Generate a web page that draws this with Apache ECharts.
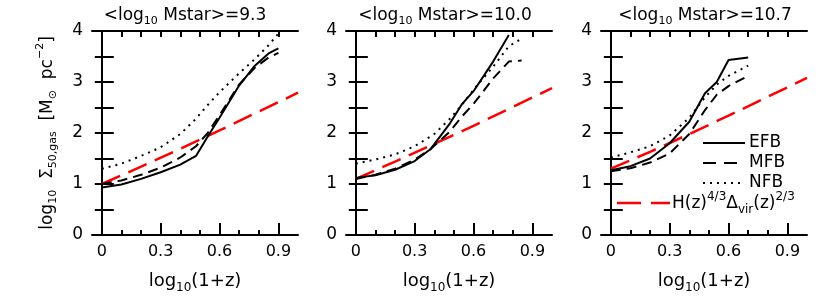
<!DOCTYPE html>
<html><head><meta charset="utf-8">
<script src="https://cdn.jsdelivr.net/npm/echarts@6/dist/echarts.min.js"></script>
<style>html,body{margin:0;padding:0;background:#fff}#c{width:822px;height:301px}</style>
</head><body><div id="c"></div>
<script>
const FONT = 'DejaVu Sans';
// ---- text / ticks ----
const panelMasses = ['9.3', '10.0', '10.7'];
const xLabelTicks = [0, 0.3, 0.6, 0.9];
const xMinorTicks = [0.1, 0.2, 0.4, 0.5, 0.7, 0.8];
const xTopTicks = [0, 0.1, 0.2, 0.3, 0.4, 0.5, 0.6, 0.7, 0.8, 0.9];
const yLabelTicks = [0, 1, 2, 3, 4];
const yTicks = [0, 0.5, 1, 1.5, 2, 2.5, 3, 3.5, 4];
const legendNames = ['EFB', 'MFB', 'NFB'];

// ---- panel 1 : <log10 Mstar>=9.3 ----
const p1X   = [0, 0.1, 0.2, 0.3, 0.4, 0.48, 0.54, 0.6, 0.7, 0.78, 0.85, 0.9];
const p1EFB = [0.93, 0.99, 1.10, 1.23, 1.38, 1.55, 1.93, 2.30, 2.93, 3.32, 3.56, 3.66];
const p1MFB = [1.00, 1.07, 1.18, 1.32, 1.52, 1.74, 2.00, 2.35, 2.95, 3.28, 3.48, 3.57];
const p1NFB = [1.30, 1.40, 1.55, 1.72, 1.98, 2.28, 2.55, 2.80, 3.17, 3.45, 3.72, 3.95];
// ---- panel 2 : <log10 Mstar>=10.0 ----
const p2X    = [0, 0.1, 0.2, 0.3, 0.38, 0.48, 0.54, 0.6, 0.7, 0.78];
const p2EFB  = [1.12, 1.17, 1.28, 1.45, 1.68, 2.19, 2.56, 2.82, 3.40, 3.92];
const p2XM   = [0, 0.1, 0.2, 0.3, 0.38, 0.48, 0.54, 0.6, 0.7, 0.78, 0.845];
const p2MFB  = [1.10, 1.18, 1.30, 1.48, 1.68, 2.03, 2.32, 2.57, 3.07, 3.40, 3.42];
const p2XN   = [0, 0.1, 0.2, 0.3, 0.4, 0.48, 0.54, 0.6, 0.7, 0.78, 0.845];
const p2NFB  = [1.40, 1.48, 1.58, 1.74, 1.98, 2.28, 2.55, 2.85, 3.30, 3.70, 3.85];
// ---- panel 3 : <log10 Mstar>=10.7 ----
const p3X   = [0, 0.1, 0.2, 0.3, 0.4, 0.48, 0.54, 0.6, 0.7];
const p3EFB = [1.27, 1.35, 1.50, 1.80, 2.22, 2.78, 3.00, 3.43, 3.48];
const p3MFB = [1.25, 1.31, 1.42, 1.60, 1.98, 2.45, 2.75, 2.92, 3.12];
const p3NFB = [1.52, 1.62, 1.74, 1.95, 2.30, 2.70, 2.95, 3.12, 3.32];
// ---- H(z)^4/3 Delta_vir(z)^2/3 scaling ----
const hX    = [0, 0.2, 0.4, 0.6, 0.8, 1.0];
const p1H   = [1.00, 1.34, 1.69, 2.05, 2.42, 2.79];
const p2H   = [1.10, 1.44, 1.79, 2.14, 2.51, 2.88];
const p3H   = [1.30, 1.63, 1.98, 2.34, 2.71, 3.08];

const panels = [
  {series: [[p1X, p1EFB], [p1X, p1MFB], [p1X, p1NFB], [hX, p1H]]},
  {series: [[p2X, p2EFB], [p2XM, p2MFB], [p2XN, p2NFB], [hX, p2H]]},
  {series: [[p3X, p3EFB], [p3X, p3MFB], [p3X, p3NFB], [hX, p3H]]}
];

function rich(size, sub, color) {
  const base = {fontFamily: FONT, fontWeight: 'normal', color: color, verticalAlign: 'top'};
  return {
    m: Object.assign({}, base, {fontSize: size, padding: [4, 0, 0, 0]}),
    s: Object.assign({}, base, {fontSize: sub, padding: [Math.round(size * 0.78), 0, 0, 0]}),
    p: Object.assign({}, base, {fontSize: sub, padding: [0, 0, 0, 0]})
  };
}

const gridLefts = [92, 346, 601];
const titleCenters = [185, 445, 705];
const styles = [
  {color: '#000', width: 2, type: 'solid'},
  {color: '#000', width: 2, type: [10, 6]},
  {color: '#000', width: 2, type: [2, 5]},
  {color: '#ff0000', width: 2.5, type: [20, 9]}
];

const grid = [], xAxis = [], yAxis = [], series = [], title = [];
const black = {color: '#000', width: 2};
panels.forEach((p, i) => {
  grid.push({left: gridLefts[i], top: 31, width: 206, height: 204});
  title.push({
    text: '{m|<log}{s|10}{m| Mstar>=' + panelMasses[i] + '}',
    left: titleCenters[i], top: 3, textAlign: 'center', padding: 0,
    textStyle: {fontWeight: 'normal', rich: rich(17, 11, '#000')}
  });
  const xBase = {type: 'value', gridIndex: i, min: -0.05, max: 1.0, splitLine: {show: false}};
  xAxis.push(Object.assign({}, xBase, {
    position: 'bottom',
    axisLine: {lineStyle: black},
    axisTick: {inside: true, length: 12, customValues: xLabelTicks, lineStyle: black},
    axisLabel: {customValues: xLabelTicks, margin: 9, fontFamily: FONT, fontSize: 16, color: '#000',
      formatter: v => v === 0 ? '0' : v.toFixed(1)},
    name: '{m|log}{s|10}{m|(1+z)}', nameLocation: 'middle', nameGap: 33,
    nameTextStyle: {rich: rich(18, 12, '#000')}
  }));
  xAxis.push(Object.assign({}, xBase, {
    position: 'bottom', axisLine: {show: false},
    axisTick: {inside: true, length: 5, customValues: xMinorTicks, lineStyle: black},
    axisLabel: {show: false}
  }));
  xAxis.push(Object.assign({}, xBase, {
    position: 'top', axisLine: {lineStyle: black},
    axisTick: {inside: true, length: 6, customValues: xTopTicks, lineStyle: black},
    axisLabel: {show: false}
  }));
  const yBase = {type: 'value', gridIndex: i, min: 0, max: 4, splitLine: {show: false}};
  const yl = Object.assign({}, yBase, {
    position: 'left', axisLine: {lineStyle: black},
    axisTick: {inside: true, length: 12, customValues: yTicks, lineStyle: black},
    axisLabel: {customValues: yLabelTicks, margin: 9, fontFamily: FONT, fontSize: 17, color: '#000'}
  });
  if (i === 0) {
    Object.assign(yl, {
      name: '{m|log}{s|10}{m|  Σ}{s|50,gas}{m|  [M}{s|⊙}{m|  pc}{p|−2}{m|]}',
      nameLocation: 'middle', nameRotate: 90, nameGap: 33,
      nameTextStyle: {rich: rich(17, 11, '#000')}
    });
  }
  yAxis.push(yl);
  yAxis.push(Object.assign({}, yBase, {
    position: 'right', axisLine: {lineStyle: black},
    axisTick: {inside: true, length: 7, customValues: yTicks, lineStyle: black},
    axisLabel: {show: false}
  }));
  p.series.forEach((s, k) => {
    series.push({
      type: 'line', xAxisIndex: 3 * i, yAxisIndex: 2 * i,
      data: s[0].map((x, j) => [x, s[1][j]]),
      showSymbol: false, symbol: 'none', clip: true, silent: true,
      z: k === 3 ? 3 : 4,
      lineStyle: styles[k]
    });
  });
});

// legend (panel 3)
const legY = [143, 163, 183];
const graphic = [];
legendNames.forEach((n, k) => {
  graphic.push({type: 'line', shape: {x1: 703, y1: legY[k], x2: 745, y2: legY[k]},
    style: {stroke: '#000', lineWidth: 2, lineDash: k === 0 ? null : (k === 1 ? [13, 8] : [2, 5])}});
  graphic.push({type: 'text', x: 749, y: legY[k],
    style: {text: n, fontFamily: FONT, fontSize: 17, fill: '#000', verticalAlign: 'middle', align: 'left'}});
});
graphic.push({type: 'line', shape: {x1: 617, y1: 203, x2: 670, y2: 203},
  style: {stroke: '#ff0000', lineWidth: 2.5, lineDash: [24, 10]}});
graphic.push({type: 'text', x: 672, y: 191,
  style: {text: '{m|H(z)}{p|4/3}{m|Δ}{s|vir}{m|(z)}{p|2/3}', rich: rich(17, 12, '#ff0000'),
    verticalAlign: 'top', align: 'left'}});

const chart = echarts.init(document.getElementById('c'));
chart.setOption({animation: false, backgroundColor: '#fff', title, grid, xAxis, yAxis, series, graphic});
</script></body></html>
